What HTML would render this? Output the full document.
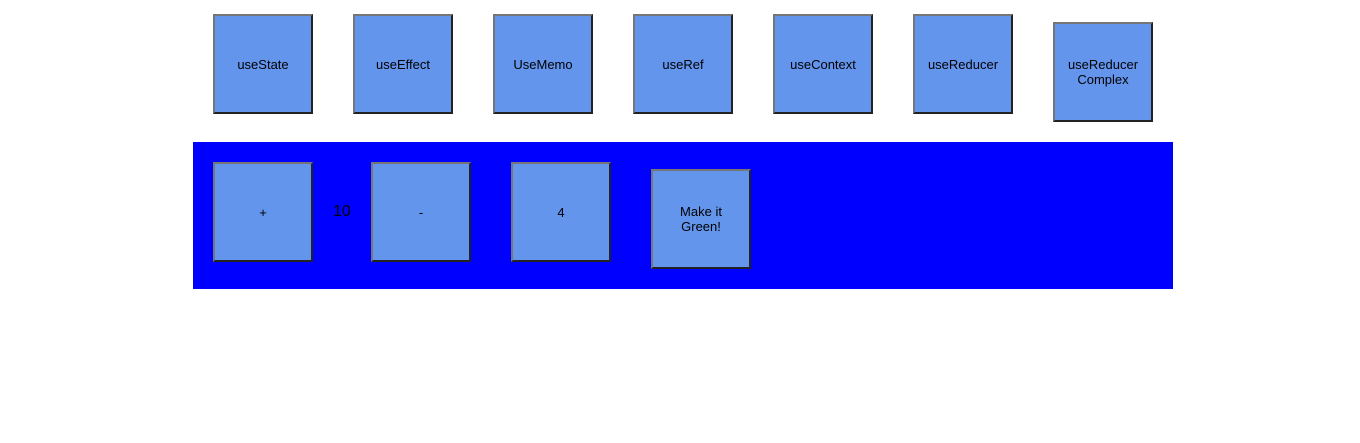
<!DOCTYPE html>
<html><head><meta charset="utf-8"><style>
html,body{margin:0;padding:0;background:#fff;width:1360px;height:443px;overflow:hidden;position:relative;font-family:"Liberation Sans",Arial,sans-serif;}
.b{position:absolute;width:100px;height:100px;box-sizing:border-box;background:#6495ED;border:2px solid;border-color:#767676 #222 #222 #767676;display:flex;align-items:center;justify-content:center;text-align:center;font-size:13px;color:#000;line-height:15px;}
.panel{position:absolute;left:193px;top:142px;width:980px;height:147px;background:#0000ff;}
.n{position:absolute;left:333px;top:203px;font-size:16px;color:#000;}
</style></head><body>
<div class="b" style="left:213px;top:14px">useState</div>
<div class="b" style="left:353px;top:14px">useEffect</div>
<div class="b" style="left:493px;top:14px">UseMemo</div>
<div class="b" style="left:633px;top:14px">useRef</div>
<div class="b" style="left:773px;top:14px">useContext</div>
<div class="b" style="left:913px;top:14px">useReducer</div>
<div class="b" style="left:1053px;top:22px">useReducer<br>Complex</div>
<div class="panel"></div>
<div class="b" style="left:213px;top:162px">+</div>
<div class="n">10</div>
<div class="b" style="left:371px;top:162px">-</div>
<div class="b" style="left:511px;top:162px">4</div>
<div class="b" style="left:651px;top:169px">Make it<br>Green!</div>
</body></html>
